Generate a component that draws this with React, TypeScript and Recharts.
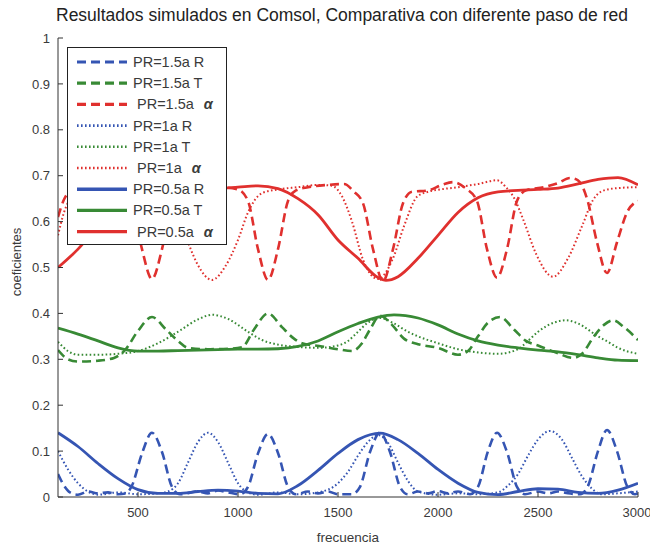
import React from 'react';
import { LineChart, Line, XAxis, YAxis, Legend } from 'recharts';

type Pt = [number, number];

const FREQ_TICKS = [500, 1000, 1500, 2000, 2500, 3000];
const COEF_TICKS = [0, 0.1, 0.2, 0.3, 0.4, 0.5, 0.6, 0.7, 0.8, 0.9, 1];

// PR = 1.5a (dashed)
const r15: Pt[] = [
  [100, 0.05], [130, 0.025], [160, 0.01], [200, 0.005], [250, 0.012], [300, 0.008], [350, 0.01], [400, 0.006],
  [440, 0.008], [470, 0.025], [520, 0.095], [570, 0.14], [620, 0.098], [670, 0.022], [710, 0.006], [800, 0.012],
  [850, 0.008], [900, 0.014], [950, 0.01], [1010, 0.006], [1050, 0.022], [1100, 0.095], [1150, 0.137], [1200, 0.096],
  [1250, 0.022], [1290, 0.006], [1350, 0.012], [1400, 0.008], [1450, 0.012], [1500, 0.006], [1570, 0.006], [1610, 0.022],
  [1660, 0.098], [1710, 0.14], [1760, 0.098], [1810, 0.022], [1850, 0.006], [1900, 0.012], [1950, 0.008], [2000, 0.013],
  [2050, 0.008], [2100, 0.012], [2160, 0.006], [2200, 0.022], [2250, 0.1], [2295, 0.14], [2345, 0.098], [2395, 0.022],
  [2435, 0.006], [2500, 0.012], [2550, 0.008], [2600, 0.012], [2650, 0.008], [2710, 0.006], [2750, 0.024], [2800, 0.1],
  [2845, 0.146], [2895, 0.1], [2945, 0.024], [2985, 0.006], [3000, 0.008],
];
const t15: Pt[] = [
  [100, 0.32], [150, 0.3], [200, 0.295], [300, 0.297], [380, 0.303], [435, 0.32], [500, 0.362], [570, 0.392],
  [640, 0.365], [700, 0.34], [750, 0.325], [850, 0.322], [950, 0.323], [1020, 0.326], [1080, 0.365], [1150, 0.4],
  [1220, 0.37], [1280, 0.345], [1320, 0.335], [1420, 0.328], [1500, 0.322], [1570, 0.318], [1620, 0.335], [1660, 0.365],
  [1710, 0.395], [1770, 0.375], [1830, 0.345], [1900, 0.333], [2000, 0.325], [2100, 0.31], [2150, 0.318], [2200, 0.35],
  [2250, 0.38], [2310, 0.392], [2380, 0.365], [2440, 0.34], [2500, 0.33], [2600, 0.313], [2675, 0.303], [2720, 0.312],
  [2780, 0.35], [2830, 0.375], [2875, 0.385], [2930, 0.37], [3000, 0.342],
];
const a15: Pt[] = [
  [100, 0.61], [130, 0.648], [170, 0.668], [250, 0.675], [300, 0.67], [350, 0.675], [400, 0.672], [440, 0.665],
  [470, 0.645], [520, 0.54], [570, 0.475], [620, 0.54], [670, 0.645], [710, 0.668], [800, 0.672], [900, 0.675],
  [1000, 0.67], [1050, 0.645], [1100, 0.54], [1150, 0.473], [1200, 0.54], [1250, 0.645], [1290, 0.668], [1350, 0.675],
  [1450, 0.68], [1530, 0.682], [1580, 0.665], [1625, 0.64], [1675, 0.54], [1725, 0.47], [1775, 0.54], [1825, 0.64],
  [1870, 0.665], [1950, 0.668], [2020, 0.68], [2075, 0.686], [2140, 0.672], [2195, 0.645], [2245, 0.54], [2295, 0.478],
  [2345, 0.54], [2395, 0.645], [2440, 0.668], [2530, 0.675], [2600, 0.684], [2660, 0.695], [2700, 0.69], [2745, 0.65],
  [2795, 0.555], [2845, 0.488], [2895, 0.555], [2945, 0.62], [3000, 0.645],
];

// PR = 1a (dotted)
const r10: Pt[] = [
  [100, 0.1], [150, 0.06], [200, 0.03], [250, 0.012], [300, 0.005], [400, 0.01], [500, 0.006], [600, 0.008],
  [650, 0.012], [700, 0.03], [750, 0.075], [800, 0.12], [850, 0.14], [900, 0.12], [950, 0.075], [1000, 0.03],
  [1050, 0.01], [1100, 0.005], [1200, 0.01], [1300, 0.006], [1400, 0.01], [1500, 0.03], [1550, 0.055], [1600, 0.09],
  [1650, 0.12], [1700, 0.135], [1750, 0.118], [1800, 0.075], [1850, 0.035], [1900, 0.012], [2000, 0.005], [2100, 0.008],
  [2200, 0.006], [2300, 0.01], [2350, 0.025], [2400, 0.05], [2450, 0.09], [2500, 0.125], [2560, 0.144], [2620, 0.125],
  [2670, 0.085], [2720, 0.045], [2770, 0.018], [2820, 0.006], [2900, 0.008], [3000, 0.012],
];
const t10: Pt[] = [
  [100, 0.338], [150, 0.318], [200, 0.31], [300, 0.31], [400, 0.312], [500, 0.318], [600, 0.335], [700, 0.36],
  [800, 0.387], [870, 0.397], [950, 0.388], [1050, 0.36], [1120, 0.342], [1200, 0.332], [1300, 0.327], [1400, 0.325],
  [1500, 0.33], [1550, 0.34], [1600, 0.36], [1650, 0.38], [1710, 0.39], [1780, 0.378], [1850, 0.36], [1900, 0.35],
  [2000, 0.335], [2100, 0.322], [2200, 0.315], [2300, 0.312], [2400, 0.322], [2450, 0.34], [2500, 0.36], [2580, 0.38],
  [2640, 0.385], [2700, 0.378], [2800, 0.35], [2850, 0.338], [2900, 0.325], [3000, 0.312],
];
const a10: Pt[] = [
  [100, 0.57], [130, 0.62], [170, 0.655], [220, 0.668], [300, 0.673], [400, 0.672], [500, 0.67], [600, 0.665],
  [650, 0.648], [700, 0.615], [750, 0.555], [800, 0.505], [870, 0.473], [940, 0.505], [1000, 0.56], [1050, 0.62],
  [1120, 0.662], [1200, 0.67], [1300, 0.675], [1400, 0.68], [1470, 0.678], [1520, 0.655], [1570, 0.6], [1625, 0.517],
  [1700, 0.475], [1775, 0.52], [1830, 0.59], [1895, 0.654], [1950, 0.665], [2010, 0.67], [2100, 0.675], [2200, 0.682],
  [2295, 0.69], [2340, 0.675], [2380, 0.652], [2430, 0.6], [2490, 0.53], [2575, 0.48], [2650, 0.52], [2720, 0.59],
  [2775, 0.647], [2830, 0.668], [2900, 0.673], [3000, 0.675],
];

// PR = 0.5a (solid)
const r05: Pt[] = [
  [100, 0.14], [200, 0.11], [300, 0.073], [400, 0.04], [500, 0.016], [600, 0.008], [700, 0.008], [800, 0.012],
  [900, 0.015], [1000, 0.013], [1100, 0.008], [1200, 0.007], [1300, 0.025], [1400, 0.058], [1500, 0.095], [1600, 0.125],
  [1710, 0.139], [1800, 0.125], [1900, 0.095], [2000, 0.06], [2100, 0.03], [2200, 0.01], [2300, 0.005], [2400, 0.012],
  [2500, 0.018], [2600, 0.017], [2700, 0.01], [2800, 0.008], [2900, 0.015], [3000, 0.03],
];
const t05: Pt[] = [
  [100, 0.368], [200, 0.355], [300, 0.34], [400, 0.325], [500, 0.318], [600, 0.318], [700, 0.319], [800, 0.32],
  [900, 0.321], [1000, 0.322], [1100, 0.322], [1200, 0.323], [1300, 0.328], [1400, 0.34], [1500, 0.36], [1600, 0.378],
  [1700, 0.392], [1780, 0.397], [1900, 0.39], [2000, 0.375], [2100, 0.355], [2200, 0.34], [2300, 0.331], [2400, 0.325],
  [2500, 0.32], [2600, 0.316], [2700, 0.31], [2800, 0.303], [2900, 0.298], [3000, 0.297],
];
const a05: Pt[] = [
  [100, 0.5], [200, 0.54], [300, 0.59], [400, 0.63], [500, 0.655], [600, 0.665], [700, 0.668], [800, 0.67],
  [900, 0.672], [1000, 0.675], [1100, 0.678], [1200, 0.672], [1300, 0.65], [1400, 0.615], [1500, 0.56], [1600, 0.52],
  [1700, 0.478], [1740, 0.472], [1800, 0.48], [1900, 0.52], [2000, 0.57], [2100, 0.62], [2200, 0.652], [2300, 0.665],
  [2400, 0.668], [2500, 0.67], [2600, 0.673], [2700, 0.682], [2800, 0.692], [2900, 0.696], [3000, 0.68],
];

const BLUE = '#3555b3';
const GREEN = '#388a35';
const RED = '#e0302e';

const DASH = '9 5';
const DOT = '1.6 2.4';

const series = [
  { name: 'PR=1.5a R', pts: r15, color: BLUE, dash: DASH, width: 2.6, alpha: false },
  { name: 'PR=1.5a T', pts: t15, color: GREEN, dash: DASH, width: 2.6, alpha: false },
  { name: 'PR=1.5a', pts: a15, color: RED, dash: DASH, width: 2.6, alpha: true },
  { name: 'PR=1a R', pts: r10, color: BLUE, dash: DOT, width: 2, alpha: false },
  { name: 'PR=1a T', pts: t10, color: GREEN, dash: DOT, width: 2, alpha: false },
  { name: 'PR=1a', pts: a10, color: RED, dash: DOT, width: 2, alpha: true },
  { name: 'PR=0.5a R', pts: r05, color: BLUE, dash: undefined, width: 2.8, alpha: false },
  { name: 'PR=0.5a T', pts: t05, color: GREEN, dash: undefined, width: 2.8, alpha: false },
  { name: 'PR=0.5a', pts: a05, color: RED, dash: undefined, width: 2.8, alpha: true },
];

const FONT = '"Liberation Sans", Arial, sans-serif';
const TICK_STYLE = { fontSize: 13, fill: '#3a3a3a', fontFamily: FONT };

const LegendBox = () => {
  const rowY = (i: number) => 15 + i * 21.2;
  return (
    <svg width={160} height={198} style={{ display: 'block' }}>
      <rect x={0.5} y={0.5} width={159} height={197} fill="#fff" stroke="#222" strokeWidth={1} />
      {series.map((s, i) => (
        <g key={s.name}>
          <line
            x1={10}
            x2={60}
            y1={rowY(i)}
            y2={rowY(i)}
            stroke={s.color}
            strokeWidth={s.width + 0.6}
            strokeDasharray={s.dash}
          />
          <text
            x={s.alpha ? 70 : 66}
            y={rowY(i) + 5}
            fontSize={14.5}
            fill="#3a3a3a"
            fontFamily={FONT}
          >
            {s.name}
            {s.alpha && (
              <tspan dx={10} fontStyle="italic" fontWeight="bold">
                α
              </tspan>
            )}
          </text>
        </g>
      ))}
    </svg>
  );
};

const YLabel = () => (
  <text
    x={21}
    y={262}
    transform="rotate(-90 21 262)"
    textAnchor="middle"
    fontSize={13}
    fill="#3a3a3a"
    fontFamily={FONT}
  >
    coeficientes
  </text>
);

export default function App() {
  return (
    <div style={{ position: 'absolute', left: 0, top: 0, width: 650, height: 544, background: '#fff' }}>
      <div
        style={{
          position: 'absolute',
          left: 0,
          top: 5,
          width: 650,
          textAlign: 'center',
          paddingLeft: 34,
          boxSizing: 'border-box',
          fontFamily: FONT,
          fontSize: 17.5,
          color: '#222',
          whiteSpace: 'nowrap',
        }}
      >
        Resultados simulados en Comsol, Comparativa con diferente paso de red
      </div>
      <LineChart width={650} height={544} margin={{ top: 38, right: 12, bottom: 0, left: 0 }}>
        <XAxis
          dataKey="f"
          type="number"
          domain={[100, 3000]}
          ticks={FREQ_TICKS}
          allowDataOverflow
          height={47}
          tickSize={-5}
          tickMargin={16}
          tick={TICK_STYLE}
          stroke="#333"
          label={{ value: 'frecuencia', position: 'insideBottom', offset: 2, fontSize: 13.5, fill: '#3a3a3a', fontFamily: FONT }}
        />
        <XAxis
          xAxisId="top"
          orientation="top"
          dataKey="f"
          type="number"
          domain={[100, 3000]}
          ticks={FREQ_TICKS}
          height={0}
          tickSize={-5}
          tick={false}
          stroke="#333"
        />
        <YAxis
          type="number"
          domain={[0, 1]}
          ticks={COEF_TICKS}
          width={58}
          tickSize={-5}
          tickMargin={13}
          tick={TICK_STYLE}
          stroke="#333"
          label={{ content: () => <YLabel /> }}
        />
        <YAxis
          yAxisId="right"
          orientation="right"
          type="number"
          domain={[0, 1]}
          ticks={COEF_TICKS}
          width={0}
          tickSize={-5}
          tick={false}
          stroke="#333"
        />
        {series.map((s) => (
          <Line
            key={s.name}
            name={s.name}
            data={s.pts.map(([f, v]) => ({ f, v }))}
            dataKey="v"
            type="monotone"
            stroke={s.color}
            strokeWidth={s.width}
            strokeDasharray={s.dash}
            dot={false}
            activeDot={false}
            isAnimationActive={false}
          />
        ))}
        <Legend
          layout="vertical"
          align="center"
          verticalAlign="middle"
          content={() => <LegendBox />}
          wrapperStyle={{ left: 67, top: 47, width: 160, height: 198 }}
        />
      </LineChart>
    </div>
  );
}
